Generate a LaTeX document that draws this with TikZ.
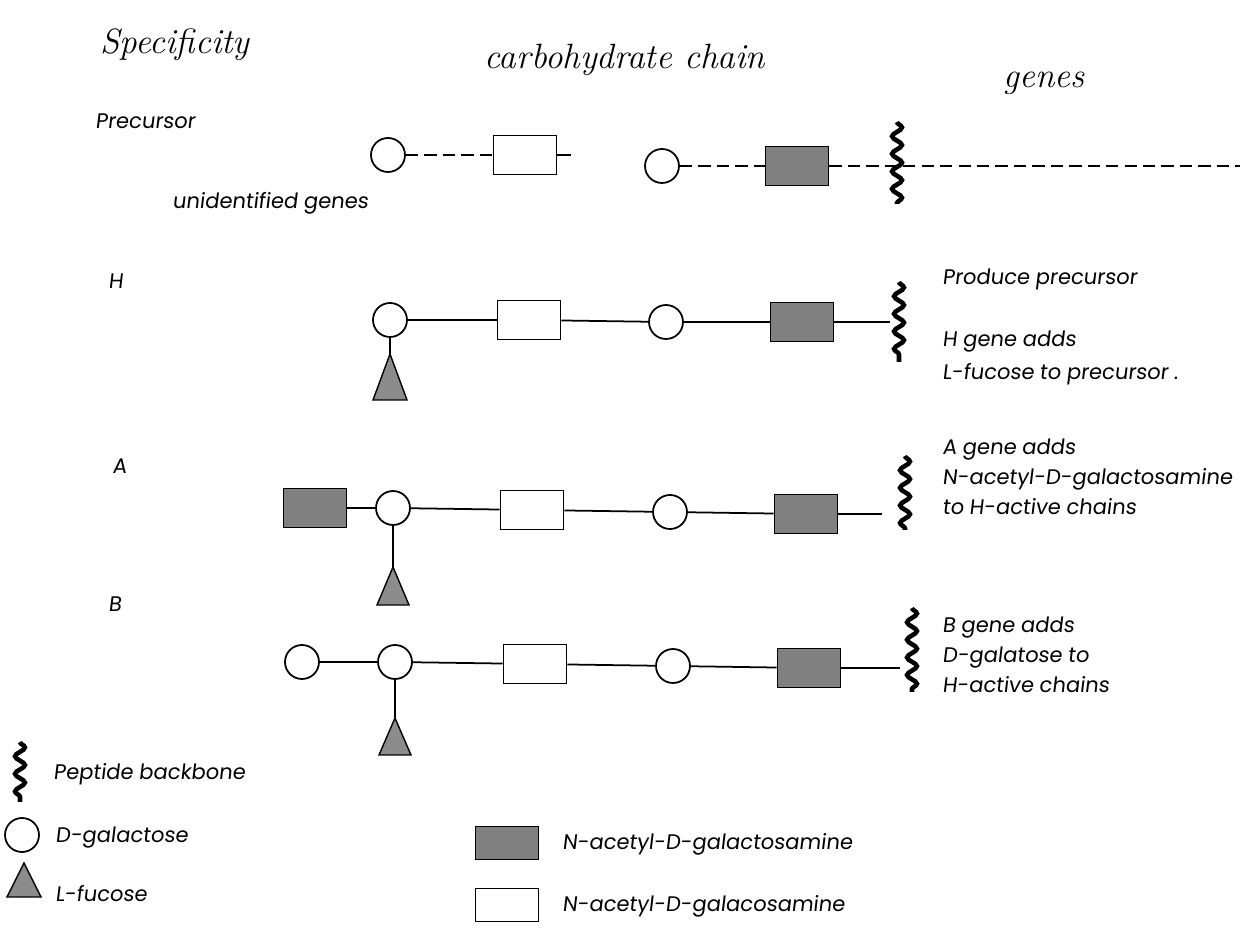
\documentclass[tikz,border=0pt]{standalone}
\usepackage{fontspec}
\newfontfamily\lblfont{Poppins}[FakeSlant=0.12]
\usetikzlibrary{decorations.pathmorphing}
\begin{document}
\begin{tikzpicture}[x=0.02cm,y=-0.02cm,
    gal/.style={circle,draw,line width=1pt,minimum size=0.68cm,inner sep=0pt},
    nac/.style={rectangle,draw,line width=1pt,minimum width=1.26cm,minimum height=0.78cm,inner sep=0pt},
    nag/.style={nac,fill=black!50},
    fuc/.style={draw,fill=black!45,line width=0.8pt},
    pep/.style={line width=2.6pt,decorate,decoration={snake,amplitude=2.8pt,segment length=10pt}},
    link/.style={line width=1pt},
    gap/.style={link,dash pattern=on 7pt off 3.5pt},
    hd/.style={font=\fontsize{20}{24}\selectfont\itshape},
    lbl/.style={font=\lblfont\fontsize{12}{17}\selectfont,inner sep=0pt,align=left}]
  \useasboundingbox (0,0) rectangle (1248,928);

  \node[hd] (hspec) at (175,45) {Specificity};
  \node[hd] (hchain) at (625,60) {carbohydrate chain};
  \node[hd] (hgenes) at (1044,83) {genes};

  \node[lbl,anchor=west] (lpre) at (95,121) {Precursor};
  \node[lbl,anchor=west] (lunid) at (172,203) {unidentified genes};
  \node[lbl,anchor=west] (lh) at (108,281) {H};
  \node[lbl,anchor=west] (la) at (112,466) {A};
  \node[lbl,anchor=west] (lb) at (108,604) {B};

  \node[gal] (pc1) at (388,155) {};
  \node[nac] (pr1) at (525,155) {};
  \coordinate (pstub) at (571,155);
  \node[gal] (pc2) at (662,166) {};
  \node[nag] (ps1) at (797,166) {};
  \coordinate (pend) at (1240,166);
  \draw[gap] (pc1) -- (pr1);
  \draw[link] (pr1) -- (pstub);
  \draw[gap] (pc2) -- (ps1);
  \draw[gap] (ps1) -- (pend);
  \draw[pep] (897,122) -- (897,204);

  \node[gal] (hc1) at (390,320) {};
  \coordinate (hf) at (390,354);
  \draw[fuc] (hf) -- ++(17,46) -- ++(-34,0) -- cycle;
  \node[nac] (hr1) at (529,320) {};
  \node[gal] (hc2) at (666,322) {};
  \node[nag] (hs1) at (802,322) {};
  \coordinate (hq) at (890,322);
  \draw[link] (hc1) -- (hf);
  \draw[link] (hc1) -- (hr1);
  \draw[link] (hr1) -- (hc2);
  \draw[link] (hc2) -- (hs1);
  \draw[link] (hs1) -- (hq);
  \draw[pep] (899,282) -- (899,362);
  \node[lbl,anchor=west] (gpre) at (942,279) {Produce precursor};
  \node[lbl,anchor=north west] (gh) at (942,331) {H gene adds\\[1.5pt]L-fucose to precursor .};

  \node[nag] (as0) at (315,508) {};
  \node[gal] (ac1) at (393,508) {};
  \coordinate (af) at (393,567);
  \draw[fuc] (af) -- ++(16,38) -- ++(-32,0) -- cycle;
  \node[nac] (ar1) at (532,510) {};
  \node[gal] (ac2) at (670,512) {};
  \node[nag] (as1) at (806,514) {};
  \coordinate (aq) at (882,514);
  \draw[link] (as0) -- (ac1);
  \draw[link] (ac1) -- (af);
  \draw[link] (ac1) -- (ar1);
  \draw[link] (ar1) -- (ac2);
  \draw[link] (ac2) -- (as1);
  \draw[link] (as1) -- (aq);
  \draw[pep] (905,456) -- (905,530);
  \node[lbl,anchor=north west] (ga) at (942,439) {A gene adds\\N-acetyl-D-galactosamine\\to H-active chains};

  \node[gal] (bc0) at (302,662) {};
  \node[gal] (bc1) at (395,662) {};
  \coordinate (bf) at (395,718);
  \draw[fuc] (bf) -- ++(16,37) -- ++(-32,0) -- cycle;
  \node[nac] (br1) at (535,664) {};
  \node[gal] (bc2) at (673,666) {};
  \node[nag] (bs1) at (809,668) {};
  \coordinate (bq) at (900,668);
  \draw[link] (bc0) -- (bc1);
  \draw[link] (bc1) -- (bf);
  \draw[link] (bc1) -- (br1);
  \draw[link] (br1) -- (bc2);
  \draw[link] (bc2) -- (bs1);
  \draw[link] (bs1) -- (bq);
  \draw[pep] (912,608) -- (912,692);
  \node[lbl,anchor=north west] (gb) at (942,617) {B gene adds\\D-galatose to\\H-active chains};

  \draw[pep] (20,742) -- (20,802);
  \node[lbl,anchor=west] (kpep) at (53,774) {Peptide backbone};
  \node[gal] (kgal) at (22,835) {};
  \node[lbl,anchor=west] (kgaltxt) at (55,838) {D-galactose};
  \coordinate (kf) at (24,863);
  \draw[fuc] (kf) -- ++(17,34) -- ++(-34,0) -- cycle;
  \node[lbl,anchor=west] (kfuc) at (55,894) {L-fucose};
  \node[nag,minimum height=0.66cm] (knag) at (507,843) {};
  \node[lbl,anchor=west] (knagtxt) at (562,844) {N-acetyl-D-galactosamine};
  \node[nac,minimum height=0.66cm] (knac) at (507,905) {};
  \node[lbl,anchor=west] (knactxt) at (562,906) {N-acetyl-D-galacosamine};
\end{tikzpicture}
\end{document}
